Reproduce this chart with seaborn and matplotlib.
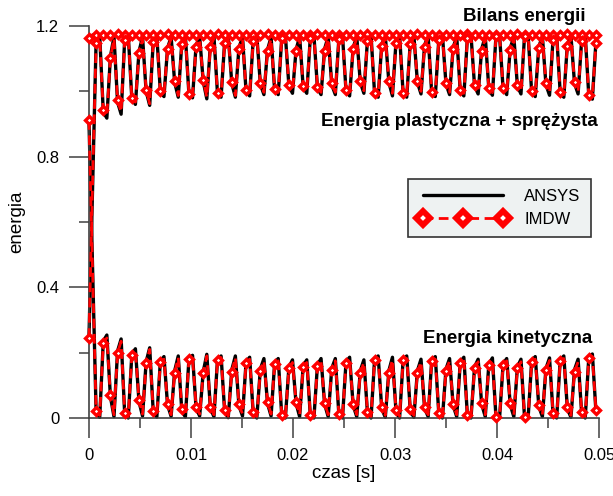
import numpy as np
import matplotlib
matplotlib.use("Agg")
import matplotlib.pyplot as plt
import seaborn as sns
from matplotlib.lines import Line2D
from matplotlib.ticker import MultipleLocator, FuncFormatter

sns.set_style("ticks")
plt.rcParams['font.family'] = ['Liberation Sans', 'DejaVu Sans']
plt.rcParams['text.color'] = 'black'
plt.rcParams['axes.labelcolor'] = 'black'
plt.rcParams['xtick.labelcolor'] = 'black'
plt.rcParams['ytick.labelcolor'] = 'black'

# ---------------- data ----------------
# time grid of the sampled runs (s)
t_fine = np.arange(143) * 0.00035
# IMDW total-energy markers (one per 0.0007 s)
t_bilans_imdw = np.arange(72) * 0.0007
bilans_imdw = [1.163, 1.172, 1.173, 1.172, 1.174, 1.172, 1.173, 1.172, 1.172, 1.173,
               1.172, 1.174, 1.172, 1.173, 1.172, 1.172, 1.173, 1.172, 1.174, 1.172,
               1.173, 1.172, 1.172, 1.173, 1.172, 1.174, 1.172, 1.173, 1.172, 1.172,
               1.173, 1.172, 1.174, 1.172, 1.173, 1.172, 1.172, 1.173, 1.172, 1.174,
               1.172, 1.173, 1.172, 1.172, 1.173, 1.172, 1.174, 1.172, 1.173, 1.172,
               1.172, 1.173, 1.172, 1.174, 1.172, 1.173, 1.172, 1.172, 1.173, 1.172,
               1.174, 1.172, 1.173, 1.172, 1.172, 1.173, 1.172, 1.174, 1.172, 1.173,
               1.172, 1.172]
t_bilans_ansys = [0.0, 0.00035, 0.0497]
bilans_ansys = [1.16, 1.172, 1.172]

kin_ansys = [0.905, 0.46, 0.015, 0.002, 0.235, 0.254, 0.065, 0.004, 0.205, 0.242,
             0.012, 0.0, 0.195, 0.212, 0.05, 0.006, 0.172, 0.215, 0.018, 0.003,
             0.175, 0.188, 0.04, 0.005, 0.145, 0.19, 0.022, 0.003, 0.182, 0.192,
             0.03, 0.006, 0.142, 0.195, 0.03, 0.004, 0.18, 0.19, 0.02, 0.001,
             0.148, 0.19, 0.038, 0.006, 0.172, 0.186, 0.014, 0.0, 0.15, 0.182,
             0.045, 0.006, 0.168, 0.182, 0.006, 0.0, 0.156, 0.178, 0.045, 0.004,
             0.16, 0.178, 0.006, 0.0, 0.163, 0.182, 0.042, 0.004, 0.152, 0.182,
             0.009, 0.0, 0.172, 0.186, 0.038, 0.004, 0.145, 0.178, 0.015, 0.0,
             0.18, 0.19, 0.028, 0.002, 0.145, 0.186, 0.02, 0.0, 0.18, 0.19,
             0.022, 0.002, 0.145, 0.18, 0.03, 0.004, 0.178, 0.188, 0.01, 0.0,
             0.15, 0.182, 0.038, 0.004, 0.172, 0.186, 0.006, 0.0, 0.156, 0.18,
             0.042, 0.004, 0.165, 0.184, 0.002, 0.0, 0.165, 0.182, 0.04, 0.004,
             0.156, 0.18, 0.002, 0.0, 0.175, 0.188, 0.035, 0.004, 0.152, 0.184,
             0.01, 0.0, 0.178, 0.19, 0.028, 0.002, 0.148, 0.18, 0.015, 0.0,
             0.186, 0.196, 0.02]

kin_imdw = [0.912, 0.45, 0.02, 0.008, 0.23, 0.245, 0.07, 0.01, 0.20, 0.235,
            0.015, 0.005, 0.193, 0.205, 0.055, 0.012, 0.167, 0.21, 0.022, 0.008,
            0.172, 0.18, 0.043, 0.01, 0.139, 0.185, 0.027, 0.008, 0.18, 0.185,
            0.035, 0.012, 0.137, 0.19, 0.035, 0.01, 0.178, 0.185, 0.024, 0.006,
            0.142, 0.185, 0.043, 0.012, 0.169, 0.18, 0.018, 0.005, 0.145, 0.175,
            0.05, 0.012, 0.165, 0.175, 0.009, 0.003, 0.152, 0.17, 0.05, 0.01,
            0.155, 0.17, 0.009, 0.004, 0.159, 0.175, 0.047, 0.01, 0.147, 0.175,
            0.012, 0.005, 0.169, 0.178, 0.043, 0.01, 0.139, 0.17, 0.019, 0.005,
            0.178, 0.182, 0.033, 0.008, 0.139, 0.178, 0.024, 0.006, 0.178, 0.182,
            0.027, 0.008, 0.139, 0.172, 0.035, 0.01, 0.175, 0.18, 0.014, 0.004,
            0.145, 0.175, 0.043, 0.01, 0.169, 0.178, 0.009, 0.003, 0.152, 0.172,
            0.047, 0.01, 0.162, 0.176, 0.004, 0.002, 0.162, 0.175, 0.045, 0.01,
            0.152, 0.172, 0.004, 0.002, 0.172, 0.18, 0.04, 0.01, 0.147, 0.176,
            0.014, 0.004, 0.175, 0.182, 0.033, 0.008, 0.142, 0.172, 0.019, 0.005,
            0.183, 0.188, 0.024]

plast_ansys = [0.25, 0.71, 1.157, 1.170, 0.937, 0.918, 1.107, 1.168, 0.967, 0.930,
               1.160, 1.172, 0.977, 0.960, 1.122, 1.166, 1.000, 0.957, 1.154, 1.169,
               0.997, 0.984, 1.132, 1.167, 1.027, 0.982, 1.150, 1.169, 0.990, 0.980,
               1.142, 1.166, 1.030, 0.977, 1.142, 1.168, 0.992, 0.982, 1.152, 1.171,
               1.024, 0.982, 1.134, 1.166, 1.000, 0.986, 1.158, 1.172, 1.022, 0.990,
               1.127, 1.166, 1.004, 0.990, 1.166, 1.172, 1.016, 0.994, 1.127, 1.168,
               1.012, 0.994, 1.166, 1.172, 1.009, 0.990, 1.130, 1.168, 1.020, 0.990,
               1.163, 1.172, 1.000, 0.986, 1.134, 1.168, 1.027, 0.994, 1.157, 1.172,
               0.992, 0.982, 1.144, 1.170, 1.027, 0.986, 1.152, 1.172, 0.992, 0.982,
               1.150, 1.170, 1.027, 0.992, 1.142, 1.168, 0.994, 0.984, 1.162, 1.172,
               1.022, 0.990, 1.134, 1.168, 1.000, 0.986, 1.166, 1.172, 1.016, 0.992,
               1.130, 1.168, 1.007, 0.988, 1.170, 1.172, 1.007, 0.990, 1.132, 1.168,
               1.016, 0.992, 1.170, 1.172, 0.997, 0.984, 1.137, 1.168, 1.020, 0.988,
               1.162, 1.172, 0.994, 0.982, 1.144, 1.170, 1.024, 0.992, 1.157, 1.172,
               0.986, 0.976, 1.152]

plast_imdw = [0.245, 0.72, 1.148, 1.164, 0.942, 0.927, 1.102, 1.162, 0.972, 0.937,
              1.157, 1.167, 0.979, 0.967, 1.117, 1.160, 1.005, 0.962, 1.150, 1.164,
              1.000, 0.992, 1.129, 1.162, 1.033, 0.987, 1.145, 1.164, 0.992, 0.987,
              1.137, 1.160, 1.035, 0.982, 1.137, 1.162, 0.994, 0.987, 1.148, 1.166,
              1.030, 0.987, 1.129, 1.160, 1.003, 0.992, 1.154, 1.167, 1.027, 0.997,
              1.122, 1.160, 1.007, 0.997, 1.163, 1.169, 1.020, 1.002, 1.122, 1.162,
              1.017, 1.002, 1.163, 1.168, 1.013, 0.997, 1.125, 1.162, 1.025, 0.997,
              1.160, 1.167, 1.003, 0.994, 1.129, 1.162, 1.033, 1.002, 1.153, 1.167,
              0.994, 0.990, 1.139, 1.164, 1.033, 0.994, 1.148, 1.166, 0.994, 0.990,
              1.145, 1.164, 1.033, 1.000, 1.137, 1.162, 0.997, 0.992, 1.158, 1.168,
              1.027, 0.997, 1.129, 1.162, 1.003, 0.994, 1.163, 1.169, 1.020, 1.000,
              1.125, 1.162, 1.010, 0.996, 1.168, 1.170, 1.010, 0.997, 1.127, 1.162,
              1.020, 1.000, 1.168, 1.170, 1.000, 0.992, 1.132, 1.162, 1.025, 0.996,
              1.158, 1.168, 0.997, 0.990, 1.139, 1.164, 1.030, 1.000, 1.153, 1.167,
              0.989, 0.984, 1.148]

series_labels = ["ANSYS", "IMDW"]
x_ticks = [0, 0.01, 0.02, 0.03, 0.04, 0.05]
y_ticks = [0, 0.4, 0.8, 1.2]

# ---------------- figure ----------------
fig = plt.figure(figsize=(6.13, 4.96), dpi=100)
ax = fig.add_axes([89 / 613, 78 / 496, 510 / 613, 392 / 496])

marker_kw = dict(marker="D", ms=3.6, mfc="white", mec="red", mew=2.4)
black_kw = dict(color="black", lw=2.4, estimator=None, sort=False,
                clip_on=False, zorder=2, legend=False, ax=ax)
red_kw = dict(color="red", lw=2.0, ls=(0, (3.5, 2)), estimator=None,
              sort=False, clip_on=False, zorder=3, legend=False, ax=ax,
              **marker_kw)

sns.lineplot(x=t_bilans_ansys, y=bilans_ansys, **black_kw)
sns.lineplot(x=t_fine, y=plast_ansys, **black_kw)
sns.lineplot(x=t_fine, y=kin_ansys, **black_kw)

sns.lineplot(x=t_bilans_imdw, y=bilans_imdw, **red_kw)
sns.lineplot(x=t_fine, y=plast_imdw, markevery=2, **red_kw)
sns.lineplot(x=t_fine, y=kin_imdw, markevery=2, **red_kw)

ax.set_xlim(0, 0.05)
ax.set_ylim(0, 1.2)
ax.set_xticks(x_ticks)
ax.set_yticks(y_ticks)
ax.xaxis.set_minor_locator(MultipleLocator(0.005))
ax.yaxis.set_minor_locator(MultipleLocator(0.2))
fmt = FuncFormatter(lambda v, p: f"{v:g}")
ax.xaxis.set_major_formatter(fmt)
ax.yaxis.set_major_formatter(fmt)

spine_col = "#404040"
for s in ["top", "right"]:
    ax.spines[s].set_visible(False)
for s in ["left", "bottom"]:
    ax.spines[s].set_color(spine_col)
    ax.spines[s].set_linewidth(1.2)
ax.tick_params(which="major", direction="out", length=14.4, width=1.1,
               color=spine_col, labelsize=12, pad=7, labelcolor="black")
ax.tick_params(which="minor", direction="out", length=7.2, width=1.1,
               color=spine_col)

ax.set_xlabel("czas [s]", fontsize=13.5, labelpad=2, color="black")
ax.set_ylabel("energia", fontsize=13.5, labelpad=8, color="black")

ax.text(0.0487, 1.2305, "Bilans energii", ha="right", va="center",
        fontsize=13.5, fontweight="bold", color="black")
ax.text(0.0499, 0.909, "Energia plastyczna + sprężysta", ha="right",
        va="center", fontsize=13.5, fontweight="bold", color="black")
ax.text(0.0493, 0.242, "Energia kinetyczna", ha="right", va="center",
        fontsize=13.5, fontweight="bold", color="black")

handles = [Line2D([], [], color="black", lw=2.4),
           Line2D([], [], color="red", lw=2.0, ls=(0, (3.5, 2)), marker="D",
                  ms=7.5, mfc="white", mec="red", mew=4.2)]
leg = ax.legend(handles, series_labels, loc="upper left",
                bbox_to_anchor=(0.625, 0.61), borderaxespad=0,
                numpoints=3, markerscale=1.0, handlelength=5.4,
                handletextpad=1.0, borderpad=0.6, labelspacing=0.5,
                fontsize=12, fancybox=False, framealpha=1)
leg.get_frame().set_facecolor("#eef2f2")
leg.get_frame().set_edgecolor("#333333")
leg.get_frame().set_linewidth(1.2)

fig.savefig("out.png", dpi=100)
